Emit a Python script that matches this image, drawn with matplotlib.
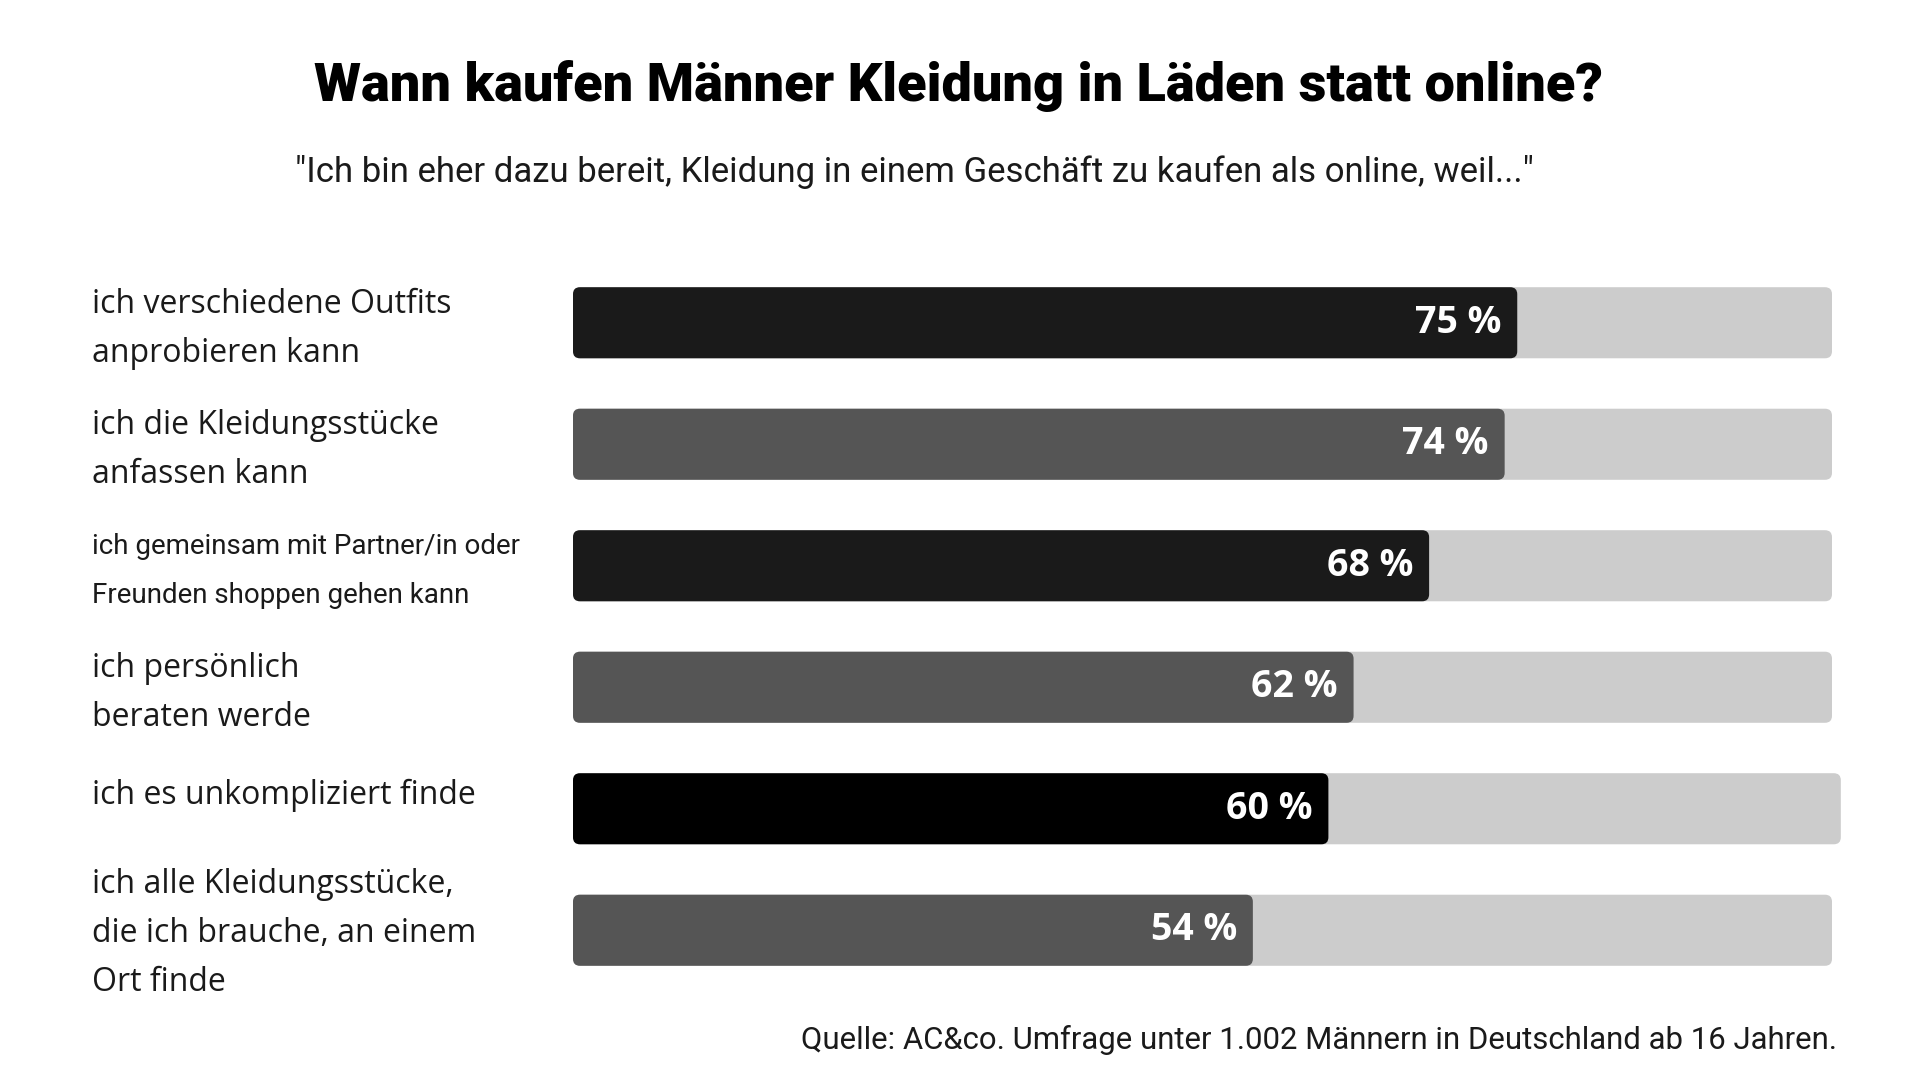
import matplotlib
matplotlib.use('Agg')
import matplotlib.pyplot as plt
import matplotlib.transforms as mtransforms
from matplotlib.patches import FancyBboxPatch

#------------------------------------------------------------------------------
# DATA
labels = ['ich verschiedene Outfits\nanprobieren kann',
          'ich die Kleidungsstücke\nanfassen kann',
          'ich gemeinsam mit Partner/in oder\nFreunden shoppen gehen kann',
          'ich persönlich\nberaten werde',
          'ich es unkompliziert finde',
          'ich alle Kleidungsstücke,\ndie ich brauche, an einem\nOrt finde']
values = [75, 74, 68, 62, 60, 54]
track = [100, 100, 100, 100, 100.7, 100]
value_labels = ['75 %', '74 %', '68 %', '62 %', '60 %', '54 %']
bar_colors = ['#1a1a1a', '#555555', '#1a1a1a', '#555555', '#000000', '#555555']
track_color = '#cccccc'

title = 'Wann kaufen Männer Kleidung in Läden statt online?'
subtitle = '"Ich bin eher dazu bereit, Kleidung in einem Geschäft zu kaufen als online, weil..."'
source = 'Quelle: AC&co. Umfrage unter 1.002 Männern in Deutschland ab 16 Jahren.'

#------------------------------------------------------------------------------
# FONTS
plt.rcParams['font.family'] = ['Roboto', 'DejaVu Sans']
label_font = ['Open Sans', 'DejaVu Sans']

#------------------------------------------------------------------------------
# FIGURE
W, H = 1920, 1080
fig = plt.figure(figsize=(W / 100, H / 100), dpi=100)
fig.patch.set_facecolor('white')

# axes for the bars (pixel positions from the reference)
left, right = 573, 1832
top, bottom = 262, 991
ax = fig.add_axes([left / W, 1 - bottom / H, (right - left) / W, (bottom - top) / H])
ax.set_xlim(0, 100)
ax.set_ylim(len(values) - 0.5, -0.5)
ax.axis('off')

bar_h = 0.585
px_x = 100 / (right - left)            # data units per pixel in x
px_y = len(values) / (bottom - top)     # data units per pixel in y
aspect = px_y / px_x
rad = 7 * px_x

for i, v in enumerate(values):
    bg = FancyBboxPatch((0, i - bar_h / 2), track[i], bar_h,
                        boxstyle='round,pad=0,rounding_size=%f' % rad,
                        mutation_aspect=aspect, fc=track_color, ec='none', clip_on=False)
    ax.add_patch(bg)
    fg = FancyBboxPatch((0, i - bar_h / 2), v, bar_h,
                        boxstyle='round,pad=0,rounding_size=%f' % rad,
                        mutation_aspect=aspect, fc=bar_colors[i], ec='none', clip_on=False)
    ax.add_patch(fg)
    ax.text(v - 16 * px_x, i, value_labels[i], color='white', fontsize=27,
            fontweight='bold', family=label_font, ha='right', va='center')

# category labels on the left (small vertical nudges to follow the reference)
label_shift = [0.05, 0.05, 0.04, 0.05, -0.11, 0.03]
trans = mtransforms.blended_transform_factory(fig.transFigure, ax.transData)
for i, lab in enumerate(labels):
    if i == 2:
        ax.text(92 / W, i + label_shift[i], lab, transform=trans, fontsize=20,
                ha='left', va='center', color='#1a1a1a', linespacing=2.05)
    else:
        ax.text(92 / W, i + label_shift[i], lab, transform=trans, fontsize=23,
                family=label_font, ha='left', va='center', color='#1a1a1a', linespacing=1.64)

# title, subtitle, source
fig.text(959 / W, 1 - 86 / H, title, fontsize=39, fontweight='black',
         ha='center', va='center', color='black')
fig.text(914 / W, 1 - 172 / H, subtitle, fontsize=25, ha='center', va='center', color='#1a1a1a')
fig.text(1837 / W, 1 - 1040 / H, source, fontsize=22.4, ha='right', va='center', color='#1a1a1a')

fig.savefig('out.png', dpi=100)
